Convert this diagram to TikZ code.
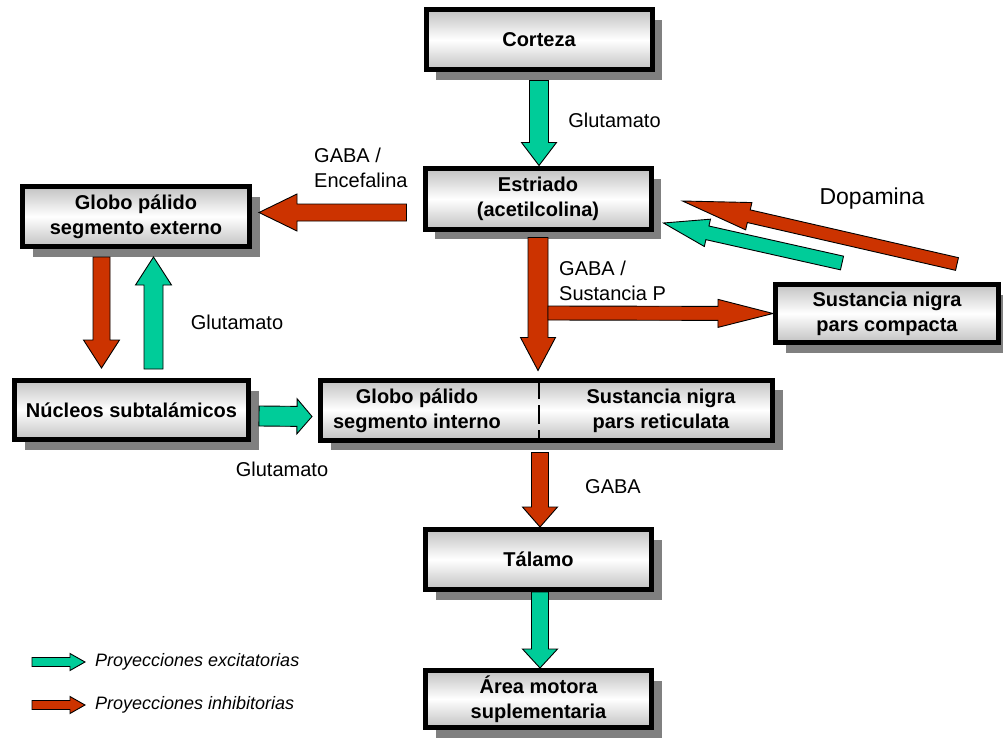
\documentclass[tikz,border=0pt]{standalone}
\usepackage{fontspec}
\setmainfont{Liberation Sans}
\usetikzlibrary{calc,shadows}
\definecolor{excg}{HTML}{00CC99}
\definecolor{inhr}{HTML}{CC3300}
\tikzset{
  box/.style={draw=black, line width=5pt, outer sep=2.5pt,
    top color=black!24, bottom color=black!24, middle color=white,
    minimum width=226pt, minimum height=60pt, inner sep=2pt, align=center,
    font=\bfseries\fontsize{20}{25}\selectfont,
    drop shadow={shadow xshift=10pt, shadow yshift=-10pt, fill=black!50, opacity=1}},
  boxtext/.style={align=center, inner sep=0pt, font=\bfseries\fontsize{20}{25}\selectfont},
  lbl/.style={inner sep=0pt, align=left, font=\fontsize{20}{25}\selectfont},
  leg/.style={inner sep=0pt, anchor=west, font=\itshape\fontsize{18}{22}\selectfont},
  blk/.style n args={4}{draw=black, line width=0.9pt, fill=#1, line join=miter,
    to path={let \p1=(\tikztostart), \p2=(\tikztotarget), \p3=($(\p2)!#4!(\p1)$) in
      ($(\p1)!#2!90:(\p2)$) -- ($(\p3)!#2!90:(\p2)$) -- ($(\p3)!#3!90:(\p2)$) -- (\p2)
      -- ($(\p3)!#3!-90:(\p2)$) -- ($(\p3)!#2!-90:(\p2)$) -- ($(\p1)!#2!-90:(\p2)$) -- cycle}},
  exc/.style n args={3}{blk={excg}{#1}{#2}{#3}},
  inh/.style n args={3}{blk={inhr}{#1}{#2}{#3}},
}
\begin{document}
\begin{tikzpicture}[x=1pt,y=-1pt]
\fill[white] (0,0) rectangle (1003,738);
\useasboundingbox (0,0) rectangle (1003,738);

% boxes
\node[box] (cortex) at (539,40) {Corteza};
\node[box] (estr) at (538,199) {Estriado\\(acetilcolina)};
\node[box, minimum width=227pt] (gpe) at (136,216.5) {Globo pálido\\segmento externo};
\node[box, minimum width=234pt, minimum height=59pt] (stn) at (131.5,410) {Núcleos subtalámicos};
\node[box, minimum width=452pt] (gpi) at (546.5,410) {};
\node[box, minimum width=223pt, minimum height=58pt] (snpc) at (887,313.5) {Sustancia nigra\\pars compacta};
\node[box] (tal) at (538.5,559.5) {Tálamo};
\node[box, minimum height=57pt] (area) at (538.5,699) {Área motora\\suplementaria};

\draw[line width=1.2pt, dash pattern=on 19pt off 6pt] ($(gpi.north)+(-7.5,2.5)$) -- ($(gpi.south)+(-7.5,-2.5)$);
\node[boxtext] (gpiL) at (417,411) {Globo pálido\\segmento interno};
\node[boxtext] (gpiR) at (661,411) {Sustancia nigra\\pars reticulata};

% connectors
\draw[exc={9.5pt}{17.5pt}{23pt}] ($(cortex.south)+(0,8)$) to ($(estr.north)+(1,-1)$);
\draw[inh={8.5pt}{18.5pt}{38pt}] ($(estr.west)+(-16,13.5)$) to ($(gpe.east)+(7,-4)$);
\draw[inh={8.5pt}{18pt}{28pt}] ($(gpe.south)+(-34.5,8)$) to ($(stn.north)+(-30,-10)$);
\draw[exc={9.5pt}{18pt}{28pt}] ($(stn.north)+(22,-9)$) to ($(gpe.south)+(17.5,8)$);
\draw[exc={10pt}{17.5pt}{15pt}] ($(stn.east)+(8,6)$) to ($(gpi.west)+(-6,6.5)$);
\draw[inh={10pt}{17.5pt}{33pt}] ($(estr.south)+(0,6)$) to ($(gpi.north)+(-8.5,-7)$);
\draw[inh={7pt}{14pt}{55pt}] ($(estr.south)+(10,81.5)$) to (snpc.west);
\draw[inh={6.5pt}{14pt}{68pt}] ($(snpc.north)+(70,-18)$) to ($(estr.east)+(29,2)$);
\draw[exc={7pt}{14pt}{45pt}] ($(snpc.north)+(-45,-19)$) to ($(estr.east)+(10,24)$);
\draw[inh={8.5pt}{17.5pt}{20pt}] ($(gpi.south)+(-6.5,10)$) to ($(tal.north)+(1.5,0)$);
\draw[exc={8.5pt}{17.5pt}{19pt}] ($(tal.south)+(1.5,0)$) to ($(area.north)+(1.5,0)$);

% labels
\node[lbl] (l1) at (614.5,120) {Glutamato};
\node[lbl, anchor=west] (l2) at (314,167.5) {GABA /\\Encefalina};
\node[lbl, font=\fontsize{23}{27}\selectfont] (l3) at (872,199) {Dopamina};
\node[lbl, anchor=west] (l4) at (559,280.5) {GABA /\\Sustancia P};
\node[lbl] (l5) at (237,322) {Glutamato};
\node[lbl] (l6) at (282,469) {Glutamato};
\node[lbl] (l7) at (613,487) {GABA};

% legend
\node[leg] (legE) at (95,662) {Proyecciones excitatorias};
\node[leg] (legI) at (95,705) {Proyecciones inhibitorias};
\draw[exc={4.5pt}{8.5pt}{15pt}] ($(legE.west)+(-63,0)$) to ($(legE.west)+(-10,0)$);
\draw[inh={4.5pt}{8.5pt}{15pt}] ($(legI.west)+(-63,0)$) to ($(legI.west)+(-10,0)$);
\end{tikzpicture}
\end{document}
